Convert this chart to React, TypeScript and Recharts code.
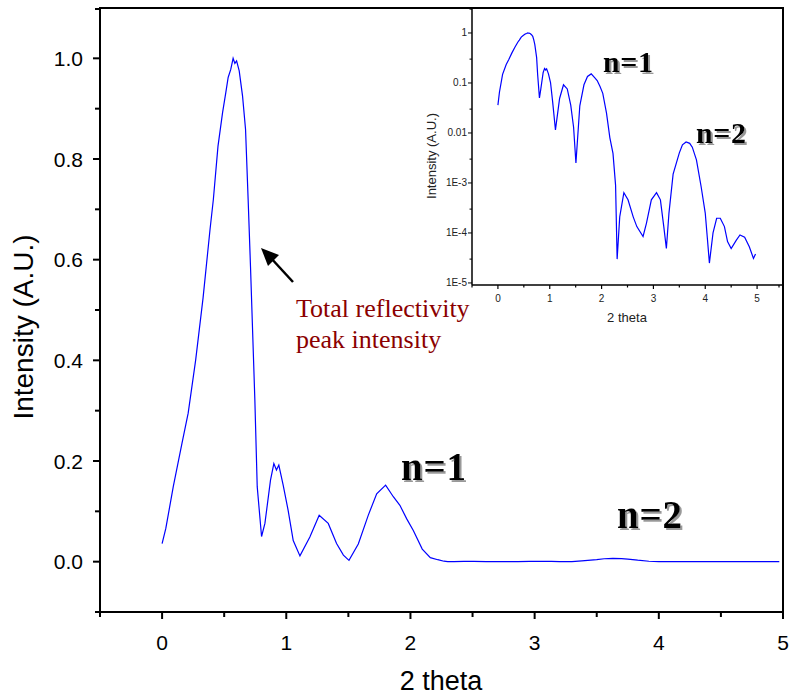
import { LineChart, Line, XAxis, YAxis, ReferenceArea } from 'recharts'

// 2-theta positions and measured reflectivity (normalised)
const theta = [
    0, 0.03, 0.09, 0.16, 0.21, 0.27, 0.33, 0.386, 0.413, 0.45, 0.487, 0.513, 0.532, 0.553, 0.572, 0.586,
    0.6, 0.621, 0.648, 0.672, 0.693, 0.712, 0.747, 0.766, 0.801, 0.828, 0.873, 0.9, 0.921, 0.94, 0.975,
    1.015, 1.056, 1.11, 1.19, 1.265, 1.338, 1.405, 1.46, 1.505, 1.58, 1.66, 1.728, 1.8, 1.862, 1.915,
    1.97, 2.023, 2.095, 2.16, 2.22, 2.27, 2.3, 2.35, 2.43, 2.51, 2.61, 2.68, 2.8, 2.865, 2.96, 3.06,
    3.135, 3.2, 3.25, 3.3, 3.38, 3.5, 3.56, 3.63, 3.7, 3.75, 3.83, 3.92, 4.0, 4.04, 4.08, 4.15, 4.22,
    4.29, 4.37, 4.43, 4.5, 4.6, 4.67, 4.76, 4.85, 4.93, 4.97,
]
const intensity = [
    0.036, 0.066, 0.149, 0.235, 0.295, 0.4, 0.524, 0.66, 0.72, 0.825, 0.892, 0.932, 0.962, 0.978, 1.0, 0.99,
    0.995, 0.975, 0.925, 0.859, 0.719, 0.586, 0.321, 0.149, 0.05, 0.076, 0.162, 0.195, 0.182, 0.192, 0.152,
    0.102, 0.042, 0.0115, 0.049, 0.092, 0.076, 0.036, 0.013, 0.0025, 0.035, 0.092, 0.135, 0.152, 0.129, 0.112,
    0.085, 0.062, 0.025, 0.008, 0.0039, 0.0009, 0.00003, 0.00021, 0.00064, 0.00046, 0.00021, 0.000134,
    0.000085, 0.000156, 0.00046, 0.00064, 0.00046, 0.000134, 0.000049, 0.00025, 0.0015, 0.004, 0.0058,
    0.0066, 0.0062, 0.0052, 0.0029, 0.00085, 0.00025, 0.00008, 0.000025, 0.0001, 0.000197, 0.000197,
    0.000134, 0.000067, 0.000049, 0.000072, 0.000091, 0.000082, 0.000053, 0.000031, 0.000038,
]

const mainXTicks = [-0.5, 0, 0.5, 1, 1.5, 2, 2.5, 3, 3.5, 4, 4.5, 5]
const mainYTicks = [-0.1, 0, 0.1, 0.2, 0.3, 0.4, 0.5, 0.6, 0.7, 0.8, 0.9, 1.0, 1.1]
const insetXTicks = [-0.5, 0, 0.5, 1, 1.5, 2, 2.5, 3, 3.5, 4, 4.5, 5, 5.5]
const insetYTicks = [
    1e-5, 2e-5, 3e-5, 4e-5, 5e-5, 6e-5, 7e-5, 8e-5, 9e-5,
    1e-4, 2e-4, 3e-4, 4e-4, 5e-4, 6e-4, 7e-4, 8e-4, 9e-4,
    1e-3, 2e-3, 3e-3, 4e-3, 5e-3, 6e-3, 7e-3, 8e-3, 9e-3,
    0.01, 0.02, 0.03, 0.04, 0.05, 0.06, 0.07, 0.08, 0.09,
    0.1, 0.2, 0.3, 0.4, 0.5, 0.6, 0.7, 0.8, 0.9, 1, 2, 3,
]

const data = theta.map((t, i) => ({ theta: t, intensity: intensity[i] }))

const sans = 'Liberation Sans, Arial, sans-serif'
const serif = 'Liberation Serif, Times New Roman, serif'

function MainXTick(props: any) {
    const { x, y, payload } = props
    const major = Number.isInteger(payload.value)
    return (
        <g>
            <line x1={x} x2={x} y1={y} y2={y + (major ? 7 : 5)} stroke="#000" strokeWidth={2} />
            {major && (
                <text x={x} y={y + 38} textAnchor="middle" fontSize={21} fontFamily={sans} fill="#000">
                    {payload.value}
                </text>
            )}
        </g>
    )
}

function MainYTick(props: any) {
    const { x, y, payload } = props
    const major = Math.round(payload.value * 10) % 2 === 0
    return (
        <g>
            <line x1={x} x2={x - (major ? 7 : 5)} y1={y} y2={y} stroke="#000" strokeWidth={2} />
            {major && (
                <text x={x - 17} y={y + 7.5} textAnchor="end" fontSize={21} fontFamily={sans} fill="#000">
                    {payload.value.toFixed(1)}
                </text>
            )}
        </g>
    )
}

function InsetXTick(props: any) {
    const { x, y, payload } = props
    const major = Number.isInteger(payload.value)
    return (
        <g>
            <line x1={x} x2={x} y1={y} y2={y + (major ? 4 : 2.5)} stroke="#000" strokeWidth={1.2} />
            {major && payload.value <= 5 && (
                <text x={x} y={y + 17} textAnchor="middle" fontSize={10} fontFamily={sans} fill="#222">
                    {payload.value}
                </text>
            )}
        </g>
    )
}

function InsetYTick(props: any) {
    const { x, y, payload } = props
    const lg = Math.log10(payload.value)
    const major = Math.abs(lg - Math.round(lg)) < 1e-6
    const e = Math.round(lg)
    const label = e >= -2 ? String(Math.pow(10, e)) : `1E${e}`
    return (
        <g>
            <line x1={x} x2={x - (major ? 4 : 2.5)} y1={y} y2={y} stroke="#000" strokeWidth={1} />
            {major && (
                <text x={x - 5} y={y + 3.5} textAnchor="end" fontSize={10} fontFamily={sans} fill="#222">
                    {label}
                </text>
            )}
        </g>
    )
}

function Shadowed({ x, y, size, children }: any) {
    return (
        <text
            x={x}
            y={y}
            fontFamily={serif}
            fontWeight="bold"
            fontSize={size}
            letterSpacing={size * 0.02}
            fill="#000"
            filter="url(#nshadow)"
        >
            {children}
        </text>
    )
}

export default function App() {
    return (
        <div style={{ position: 'absolute', left: 0, top: 0, width: 789, height: 698, background: '#fff' }}>
            <LineChart width={789} height={698} data={data} margin={{ top: 8, right: 6, bottom: 0, left: 0 }}>
                <XAxis
                    dataKey="theta"
                    type="number"
                    domain={[-0.5, 5]}
                    ticks={mainXTicks}
                    allowDataOverflow
                    height={86}
                    tickSize={0}
                    tickMargin={0}
                    tickLine={false}
                    tick={<MainXTick />}
                    axisLine={{ stroke: '#000', strokeWidth: 2 }}
                />
                <YAxis
                    type="number"
                    domain={[-0.1, 1.1]}
                    ticks={mainYTicks}
                    allowDataOverflow
                    width={100}
                    tickSize={0}
                    tickMargin={0}
                    tickLine={false}
                    tick={<MainYTick />}
                    axisLine={{ stroke: '#000', strokeWidth: 2 }}
                />
                <ReferenceArea x1={-0.5} x2={5} y1={-0.1} y2={1.1} fill="none" stroke="#000" strokeWidth={2} />
                <Line
                    type="linear"
                    dataKey="intensity"
                    stroke="#0000ff"
                    strokeWidth={1.2}
                    dot={false}
                    isAnimationActive={false}
                />
            </LineChart>

            <div style={{ position: 'absolute', left: 400, top: 0 }}>
                <LineChart width={389} height={330} data={data} margin={{ top: 8, right: 6, bottom: 0, left: 0 }}>
                    <XAxis
                        dataKey="theta"
                        type="number"
                        domain={[-0.5, 5.5]}
                        ticks={insetXTicks}
                        allowDataOverflow
                        height={45}
                        tickSize={0}
                        tickMargin={0}
                        tickLine={false}
                        tick={<InsetXTick />}
                        axisLine={{ stroke: '#000', strokeWidth: 1.5 }}
                    />
                    <YAxis
                        type="number"
                        scale="log"
                        domain={[9.1e-6, 3.16]}
                        ticks={insetYTicks}
                        allowDataOverflow
                        width={72}
                        tickSize={0}
                        tickMargin={0}
                        tickLine={false}
                        tick={<InsetYTick />}
                        axisLine={{ stroke: '#000', strokeWidth: 1.5 }}
                    />
                    <Line
                        type="linear"
                        dataKey="intensity"
                        stroke="#0000ff"
                        strokeWidth={1.2}
                        dot={false}
                        isAnimationActive={false}
                    />
                </LineChart>
            </div>

            <svg width={789} height={698} style={{ position: 'absolute', left: 0, top: 0, pointerEvents: 'none' }}>
                <defs>
                    <filter id="nshadow" x="-10%" y="-10%" width="130%" height="130%">
                        <feDropShadow dx={2} dy={2} stdDeviation={0.6} floodColor="#999" floodOpacity={1} />
                    </filter>
                </defs>
                <text transform="translate(33,327) rotate(-90)" textAnchor="middle" fontSize={28} fontFamily={sans} fill="#000">
                    Intensity (A.U.)
                </text>
                <text x={441} y={690} textAnchor="middle" fontSize={27} fontFamily={sans} fill="#000">
                    2 theta
                </text>
                <text transform="translate(436,156) rotate(-90)" textAnchor="middle" fontSize={13} fontFamily={sans} fill="#222">
                    Intensity (A.U.)
                </text>
                <text x={627} y={322} textAnchor="middle" fontSize={13} fontFamily={sans} fill="#222">
                    2 theta
                </text>

                <line x1={293} y1={282} x2={270} y2={257} stroke="#000" strokeWidth={2.5} />
                <polygon points="261,248 279,255 268,266" fill="#000" />
                <text x={296} y={317} fontSize={26} fontFamily={serif} fill="#8b0000">Total reflectivity</text>
                <text x={296} y={348} fontSize={26} fontFamily={serif} fill="#8b0000">peak intensity</text>

                <Shadowed x={401} y={480} size={39}>n=1</Shadowed>
                <Shadowed x={617} y={528} size={39}>n=2</Shadowed>
                <Shadowed x={603} y={72} size={30}>n=1</Shadowed>
                <Shadowed x={696} y={143} size={30}>n=2</Shadowed>
            </svg>
        </div>
    )
}
